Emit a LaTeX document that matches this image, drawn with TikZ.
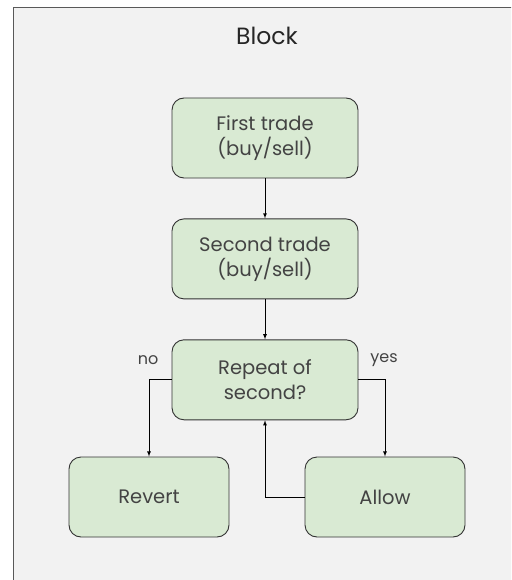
\documentclass[tikz,border=0pt]{standalone}
\usepackage{xcolor}
\usepackage{fontspec}
\setmainfont{Poppins}
\usepackage{tikz}
\usetikzlibrary{shapes.geometric, arrows, positioning, calc}
\definecolor{boxgreen}{HTML}{D9EAD3}
\definecolor{panelgray}{HTML}{F2F2F2}
\definecolor{inkgray}{HTML}{434343}
\tikzstyle{stepbox} = [rectangle, rounded corners=12pt, minimum width=186pt, minimum height=80pt, align=center, draw=black!80, fill=boxgreen, line width=0.9pt, font=\fontsize{19.5}{25}\selectfont, text=inkgray]
\tikzstyle{endbox} = [stepbox, minimum width=160pt]
\tikzstyle{arrow} = [line width=0.8pt,->,>=latex]
\tikzstyle{lbl} = [font=\fontsize{16}{18}\selectfont, text=inkgray]

\begin{document}
\begin{tikzpicture}[x=1pt, y=1pt]
    % Marco
    \useasboundingbox (0,0) rectangle (511,-580);
    \clip (0,0) rectangle (511,-580);
    \draw[fill=panelgray, draw=black!65, line width=1pt] (13,-8) rectangle (530,-600);

    % Titulo
    \node[font=\fontsize{23.5}{26}\selectfont, text=black!85] (title) at (267,-36) {Block};

    % Cajas
    \node[stepbox] (first) at (265,-138) {First trade\\(buy/sell)};
    \node[stepbox, below=40pt of first] (second) {Second trade\\(buy/sell)};
    \node[stepbox, below=40pt of second] (repeat) {Repeat of\\second?};
    \node[endbox] (revert) at (149,-497) {Revert};
    \node[endbox] (allow) at (385,-497) {Allow};

    % Flechas
    \draw[arrow] (first) -- (second);
    \draw[arrow] (second) -- (repeat);
    \draw[arrow] (repeat.west) -| (revert.north);
    \draw[arrow] (repeat.east) -| (allow.north);
    \draw[arrow] (allow.west) -| (repeat.south);

    % Etiquetas
    \node[lbl] (lblno) at (148,-360) {no};
    \node[lbl] (lblyes) at (384,-360) {yes};
\end{tikzpicture}
\end{document}
